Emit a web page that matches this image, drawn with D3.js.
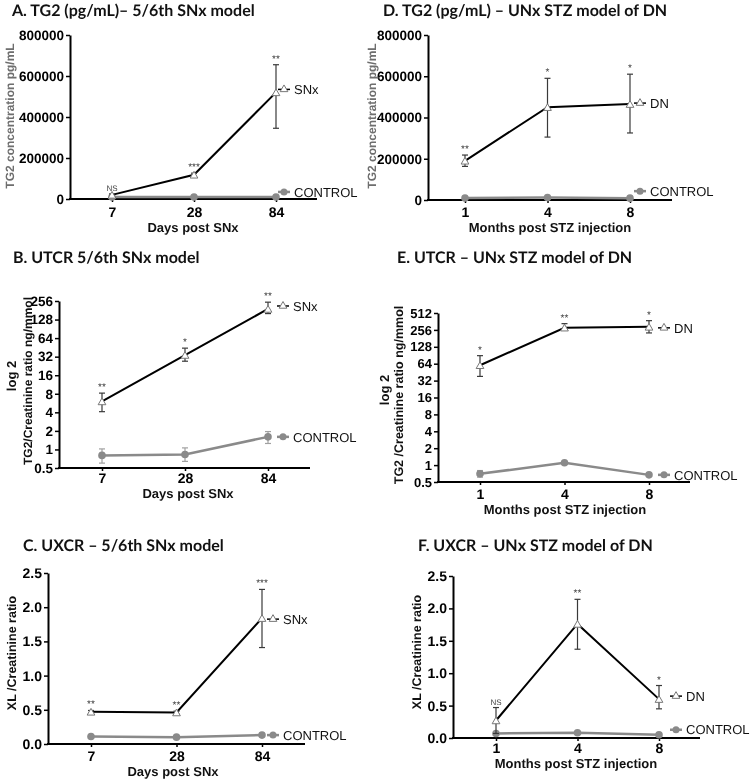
<!DOCTYPE html>
<html>
<head>
<meta charset="utf-8">
<script src="https://cdn.jsdelivr.net/npm/d3@7"></script>
<style>
  html, body { margin: 0; padding: 0; background: #fff; }
  svg { display: block; will-change: transform; }
  text { text-rendering: geometricPrecision; }
</style>
</head>
<body>
<svg id="chart" width="750" height="779"></svg>
<script>
// ---------------- DATA ----------------
const daysSNx = ["7", "28", "84"];
const monthsDN = ["1", "4", "8"];

// A. TG2 (pg/mL) – 5/6th SNx
const tg2SNx      = [20000, 118000, 520000];
const tg2SNxLow   = [15000, 110000, 345000];
const tg2SNxHigh  = [25000, 126000, 655000];
const tg2SNxCtrl  = [10000, 10000, 10000];
const tg2SNxSig   = ["NS", "***", "**"];

// D. TG2 (pg/mL) – UNx STZ model of DN
const tg2DN       = [190000, 450000, 465000];
const tg2DNLow    = [163000, 305000, 325000];
const tg2DNHigh   = [218000, 590000, 610000];
const tg2DNCtrl   = [10000, 12000, 9000];
const tg2DNSig    = ["**", "*", "*"];

// B. UTCR 5/6th SNx
const utcrSNx       = [6, 34, 190];
const utcrSNxLow    = [4.1, 27, 160];
const utcrSNxHigh   = [8.2, 44, 245];
const utcrSNxCtrl   = [0.8, 0.83, 1.6];
const utcrSNxCtrlLo = [0.6, 0.64, 1.25];
const utcrSNxCtrlHi = [1.02, 1.06, 1.95];
const utcrSNxSig    = ["**", "*", "**"];

// E. UTCR – UNx STZ model of DN
const utcrDN       = [60, 280, 290];
const utcrDNLow    = [38, 258, 226];
const utcrDNHigh   = [89, 331, 374];
const utcrDNCtrl   = [0.7, 1.1, 0.67];
const utcrDNCtrlLo = [0.61, 1.05, 0.64];
const utcrDNCtrlHi = [0.8, 1.15, 0.7];
const utcrDNSig    = ["*", "**", "*"];

// C. UXCR – 5/6th SNx
const uxcrSNx      = [0.47, 0.46, 1.84];
const uxcrSNxLow   = [0.45, 0.44, 1.41];
const uxcrSNxHigh  = [0.49, 0.48, 2.26];
const uxcrSNxCtrl  = [0.11, 0.10, 0.13];
const uxcrSNxSig   = ["**", "**", "***"];

// F. UXCR – UNx STZ model of DN
const uxcrDN       = [0.27, 1.76, 0.60];
const uxcrDNLow    = [0.07, 1.37, 0.45];
const uxcrDNHigh   = [0.47, 2.14, 0.81];
const uxcrDNCtrl   = [0.07, 0.08, 0.05];
const uxcrDNSig    = ["NS", "**", "*"];

// tick labels
const tg2Ticks  = [0, 200000, 400000, 600000, 800000];
const log256Ticks = [0.5, 1, 2, 4, 8, 16, 32, 64, 128, 256];
const log512Ticks = [0.5, 1, 2, 4, 8, 16, 32, 64, 128, 256, 512];
const xlTicks   = [0, 0.5, 1.0, 1.5, 2.0, 2.5];

// ---------------- DRAWING ----------------
const svg = d3.select("#chart");
const SANS = '"Liberation Sans", Arial, sans-serif';
const NARROW = '"Liberation Sans Narrow", "Liberation Sans", Arial, sans-serif';
const TITLEF = 'Lato, "Open Sans", sans-serif';
const GRAY = "#8a8a8a";

function panel(p) {
  const g = svg.append("g");
  const x = d3.scalePoint().domain(p.cats).range([p.xFirst, p.xLast]);
  const y = (p.log ? d3.scaleLog().base(2) : d3.scaleLinear())
              .domain(p.domain).range([p.yBottom, p.yTop]);

  // title
  g.append("text").attr("x", p.titleX).attr("y", p.titleY)
    .attr("font-family", TITLEF).attr("font-weight", 700).attr("font-size", 16)
    .attr("fill", "#111").text(p.title);

  // y axis
  const yAxis = d3.axisLeft(y).tickValues(p.yTicks).tickSize(4).tickSizeOuter(0)
    .tickPadding(2).tickFormat(p.tickFmt);
  const ya = g.append("g").attr("transform", `translate(${p.axisX},0)`).call(yAxis);
  ya.select(".domain").attr("stroke", "#000").attr("stroke-width", 2);
  ya.selectAll(".tick line").attr("stroke", "#000").attr("stroke-width", 1.5);
  ya.selectAll(".tick text").attr("font-size", p.yTickSize).attr("font-weight", 700)
    .attr("fill", "#000").attr("font-family", p.yTickFont || SANS);

  // x axis
  const xAxis = d3.axisBottom(x).tickSize(3).tickSizeOuter(0).tickPadding(0);
  const xa = g.append("g").attr("transform", `translate(0,${p.yBottom})`).call(xAxis);
  xa.select(".domain").remove();
  xa.append("line").attr("x1", p.axisX - 1).attr("x2", p.axisEnd).attr("y1", 0).attr("y2", 0)
    .attr("stroke", "#000").attr("stroke-width", 2);
  xa.selectAll(".tick line").attr("stroke", "#000").attr("stroke-width", 1.5);
  xa.selectAll(".tick text").attr("font-size", 14).attr("font-weight", 700)
    .attr("fill", "#000").attr("font-family", SANS).attr("y", p.xLabOff).attr("dy", 0);

  // x title
  g.append("text").attr("x", p.xTitleX).attr("y", p.xTitleY).attr("text-anchor", "middle")
    .attr("font-family", SANS).attr("font-weight", 700).attr("font-size", 13)
    .attr("fill", "#111").text(p.xTitle);

  // y title(s)
  p.yTitles.forEach(t => {
    g.append("text").attr("transform", `translate(${t.x},${t.y}) rotate(-90)`)
      .attr("text-anchor", "middle").attr("font-family", SANS).attr("font-weight", 700)
      .attr("font-size", t.size || 13).attr("fill", p.yTitleColor || "#111").text(t.text);
  });

  const line = d3.line().x((d, i) => x(p.cats[i])).y(d => y(d));

  // control series
  const c = p.ctrl;
  if (c.lo) {
    p.cats.forEach((cat, i) => {
      const cx = x(cat);
      g.append("line").attr("x1", cx).attr("x2", cx).attr("y1", y(c.lo[i])).attr("y2", y(c.hi[i]))
        .attr("stroke", "#a0a0a0").attr("stroke-width", 1.2);
      [c.lo[i], c.hi[i]].forEach(v => g.append("line").attr("x1", cx - 3).attr("x2", cx + 3)
        .attr("y1", y(v)).attr("y2", y(v)).attr("stroke", "#a0a0a0").attr("stroke-width", 1.2));
    });
  }
  g.append("path").datum(c.vals).attr("d", line).attr("fill", "none")
    .attr("stroke", GRAY).attr("stroke-width", 2.5);
  g.selectAll(null).data(c.vals).enter().append("circle")
    .attr("cx", (d, i) => x(p.cats[i])).attr("cy", d => y(d)).attr("r", 3.8).attr("fill", GRAY);

  // disease series
  const s = p.main;
  g.append("path").datum(s.vals).attr("d", line).attr("fill", "none")
    .attr("stroke", "#000").attr("stroke-width", 2);
  p.cats.forEach((cat, i) => {
    const cx = x(cat);
    g.append("line").attr("x1", cx).attr("x2", cx).attr("y1", y(s.lo[i])).attr("y2", y(s.hi[i]))
      .attr("stroke", "#3a3a3a").attr("stroke-width", 1.2);
    [s.lo[i], s.hi[i]].forEach(v => g.append("line").attr("x1", cx - 3).attr("x2", cx + 3)
      .attr("y1", y(v)).attr("y2", y(v)).attr("stroke", "#3a3a3a").attr("stroke-width", 1.2));
    // significance
    g.append("text").attr("x", cx).attr("y", y(s.hi[i]) - 3).attr("text-anchor", "middle")
      .attr("font-family", SANS).attr("font-size", s.sig[i] === "NS" ? 8 : 10)
      .attr("fill", "#444").text(s.sig[i]);
  });
  const tri = d3.symbol().type(d3.symbolTriangle).size(26);
  g.selectAll(null).data(s.vals).enter().append("path")
    .attr("d", tri).attr("transform", (d, i) => `translate(${x(p.cats[i])},${y(d) + 1})`)
    .attr("fill", "#fff").attr("stroke", "#777").attr("stroke-width", 1);

  // legend
  const lg = (lx, ly, label, isCtrl) => {
    g.append("line").attr("x1", lx - 6).attr("x2", lx + 6).attr("y1", ly).attr("y2", ly)
      .attr("stroke", isCtrl ? GRAY : "#000").attr("stroke-width", isCtrl ? 2.5 : 1.5);
    if (isCtrl) {
      g.append("circle").attr("cx", lx).attr("cy", ly).attr("r", 3.5).attr("fill", GRAY);
    } else {
      g.append("path").attr("d", tri).attr("transform", `translate(${lx},${ly})`)
        .attr("fill", "#fff").attr("stroke", "#777").attr("stroke-width", 1);
    }
    g.append("text").attr("x", lx + 10).attr("y", ly).attr("dy", "0.36em")
      .attr("font-family", SANS).attr("font-size", 13).attr("fill", "#111").text(label);
  };
  lg(p.legX, y(s.vals[2]) + p.legDy1, s.name, false);
  lg(p.legX, y(c.vals[2]) + p.legDy2, "CONTROL", true);
}

const fmtInt = d => d3.format("d")(d);
const fmtLog = d => d === 0.5 ? "0.5" : String(d);
const fmt1 = d => d3.format(".1f")(d);

panel({
  title: "A. TG2 (pg/mL)– 5/6th SNx model", titleX: 12, titleY: 16,
  cats: daysSNx, xFirst: 112, xLast: 276, axisX: 70, axisEnd: 317, xLabOff: 18,
  domain: [0, 800000], yTop: 35, yBottom: 199, yTicks: tg2Ticks, tickFmt: fmtInt, yTickSize: 13.5,
  xTitle: "Days post SNx", xTitleX: 193, xTitleY: 232,
  yTitles: [{ text: "TG2 concentration pg/mL", x: 14, y: 116, size: 12 }], yTitleColor: "#6e6e6e",
  main: { name: "SNx", vals: tg2SNx, lo: tg2SNxLow, hi: tg2SNxHigh, sig: tg2SNxSig },
  ctrl: { vals: tg2SNxCtrl },
  legX: 284, legDy1: -3, legDy2: -5
});

panel({
  title: "D. TG2 (pg/mL) – UNx STZ model of DN", titleX: 383, titleY: 16,
  cats: monthsDN, xFirst: 465, xLast: 630, axisX: 428, axisEnd: 672, xLabOff: 17,
  domain: [0, 800000], yTop: 35, yBottom: 200, yTicks: tg2Ticks, tickFmt: fmtInt, yTickSize: 13.5,
  xTitle: "Months post STZ injection", xTitleX: 550, xTitleY: 232,
  yTitles: [{ text: "TG2 concentration pg/mL", x: 376, y: 116, size: 12 }], yTitleColor: "#6e6e6e",
  main: { name: "DN", vals: tg2DN, lo: tg2DNLow, hi: tg2DNHigh, sig: tg2DNSig },
  ctrl: { vals: tg2DNCtrl },
  legX: 640, legDy1: -1, legDy2: -7
});

panel({
  title: "B. UTCR 5/6th SNx model", titleX: 13, titleY: 263, log: true,
  cats: daysSNx, xFirst: 102, xLast: 268, axisX: 59, axisEnd: 310, xLabOff: 15,
  domain: [0.5, 256], yTop: 301, yBottom: 468, yTicks: log256Ticks, tickFmt: fmtLog,
  yTickSize: 13.5, yTickFont: NARROW,
  xTitle: "Days post SNx", xTitleX: 188, xTitleY: 498,
  yTitles: [{ text: "log 2", x: 16, y: 376 }, { text: "TG2/Creatinine ratio ng/mmol", x: 32, y: 381, size: 12 }],
  main: { name: "SNx", vals: utcrSNx, lo: utcrSNxLow, hi: utcrSNxHigh, sig: utcrSNxSig },
  ctrl: { vals: utcrSNxCtrl, lo: utcrSNxCtrlLo, hi: utcrSNxCtrlHi },
  legX: 283, legDy1: -3, legDy2: 0
});

panel({
  title: "E. UTCR – UNx STZ model of DN", titleX: 397, titleY: 263, log: true,
  cats: monthsDN, xFirst: 480, xLast: 649, axisX: 438, axisEnd: 690, xLabOff: 17,
  domain: [0.5, 512], yTop: 313, yBottom: 482, yTicks: log512Ticks, tickFmt: fmtLog, yTickSize: 13,
  xTitle: "Months post STZ injection", xTitleX: 565, xTitleY: 514,
  yTitles: [{ text: "log 2", x: 389, y: 390 }, { text: "TG2 /Creatinine ratio ng/mmol", x: 403, y: 395, size: 12.5 }],
  main: { name: "DN", vals: utcrDN, lo: utcrDNLow, hi: utcrDNHigh, sig: utcrDNSig },
  ctrl: { vals: utcrDNCtrl, lo: utcrDNCtrlLo, hi: utcrDNCtrlHi },
  legX: 664, legDy1: 1, legDy2: 0
});

panel({
  title: "C. UXCR – 5/6th SNx model", titleX: 23, titleY: 551,
  cats: daysSNx, xFirst: 91, xLast: 262, axisX: 48, axisEnd: 305, xLabOff: 17,
  domain: [0, 2.5], yTop: 573, yBottom: 744, yTicks: xlTicks, tickFmt: fmt1, yTickSize: 14,
  xTitle: "Days post SNx", xTitleX: 173, xTitleY: 776,
  yTitles: [{ text: "XL /Creatinine ratio", x: 16, y: 653, size: 12.5 }],
  main: { name: "SNx", vals: uxcrSNx, lo: uxcrSNxLow, hi: uxcrSNxHigh, sig: uxcrSNxSig },
  ctrl: { vals: uxcrSNxCtrl },
  legX: 273, legDy1: 1, legDy2: 0
});

panel({
  title: "F. UXCR – UNx STZ model of DN", titleX: 418, titleY: 551,
  cats: monthsDN, xFirst: 496, xLast: 659, axisX: 453, axisEnd: 700, xLabOff: 15,
  domain: [0, 2.5], yTop: 576, yBottom: 738, yTicks: xlTicks, tickFmt: fmt1, yTickSize: 14,
  xTitle: "Months post STZ injection", xTitleX: 576, xTitleY: 768,
  yTitles: [{ text: "XL /Creatinine ratio", x: 421, y: 652, size: 12.5 }],
  main: { name: "DN", vals: uxcrDN, lo: uxcrDNLow, hi: uxcrDNHigh, sig: uxcrDNSig },
  ctrl: { vals: uxcrDNCtrl },
  legX: 676, legDy1: -3, legDy2: -5
});
</script>
</body>
</html>
